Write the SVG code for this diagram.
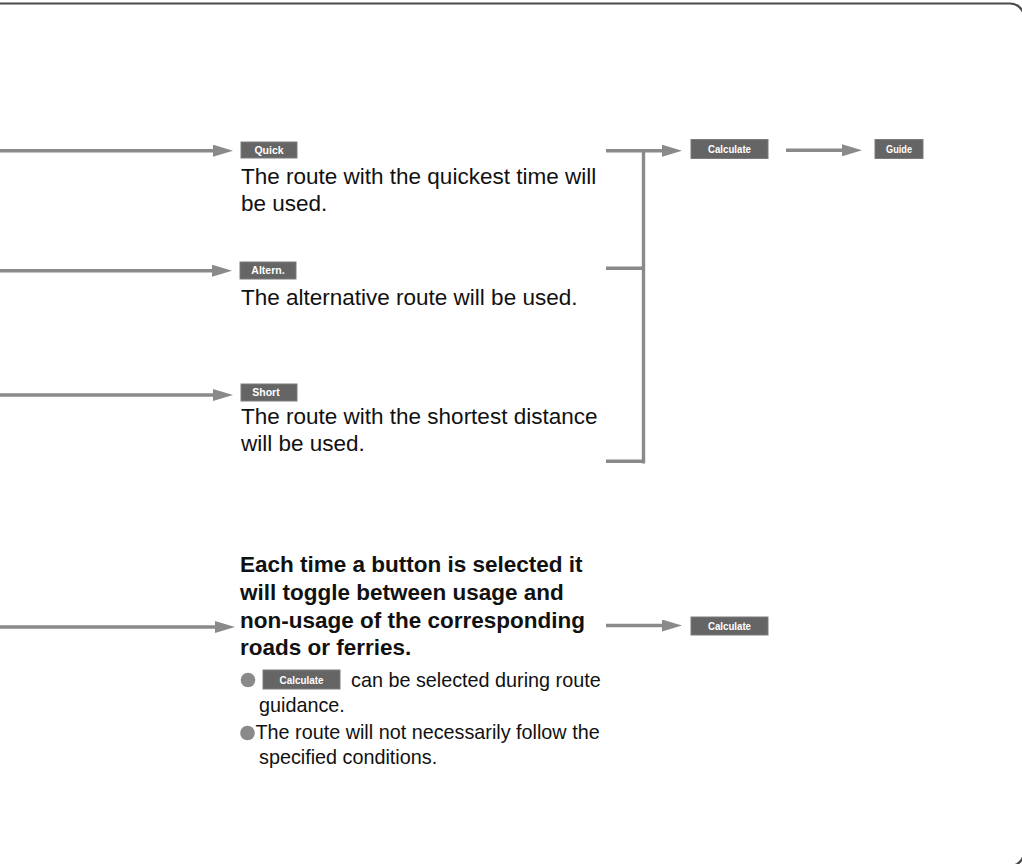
<svg xmlns="http://www.w3.org/2000/svg" width="1022" height="864" viewBox="0 0 1022 864">
<style>
.frame{fill:none;stroke:#4a4a4a;stroke-width:2.2}
.conn{fill:none;stroke:#8a8a8a;stroke-width:3.4}
.btn{fill:#656565;stroke:#7d7d7d;stroke-width:1}
.bt{fill:#ffffff;font-family:"Liberation Sans",Arial,sans-serif;font-weight:bold;font-size:10.5px;text-anchor:middle}
.txt{fill:#111111;font-family:"Liberation Sans",Arial,sans-serif;font-size:22.5px}
.bold{fill:#111111;font-family:"Liberation Sans",Arial,sans-serif;font-size:22.5px;font-weight:bold}
.note{fill:#111111;font-family:"Liberation Sans",Arial,sans-serif;font-size:19.8px}
.dot{fill:#8a8a8a}
</style>
<defs>
<marker id="ah" markerUnits="userSpaceOnUse" markerWidth="20" markerHeight="12" refX="8" refY="6" orient="auto" viewBox="0 0 20 12">
<path d="M0,0 L20,6 L0,12 z" fill="#8a8a8a"/>
</marker>
</defs>
<path class="frame" d="M-5,3.5 H1010 A14,14 0 0 1 1024,17.5 M1024,852 A14,14 0 0 1 1010,866"/>
<g id="connectors">
<line class="conn" x1="0" y1="150.7" x2="221" y2="150.7" marker-end="url(#ah)"/>
<line class="conn" x1="0" y1="270.7" x2="220" y2="270.7" marker-end="url(#ah)"/>
<line class="conn" x1="0" y1="395" x2="221" y2="395" marker-end="url(#ah)"/>
<line class="conn" x1="0" y1="627" x2="223" y2="627" marker-end="url(#ah)"/>
<line class="conn" x1="606" y1="150.7" x2="670" y2="150.7" marker-end="url(#ah)"/>
<line class="conn" x1="606" y1="268.3" x2="645" y2="268.3"/>
<line class="conn" x1="606" y1="461.3" x2="645" y2="461.3"/>
<line class="conn" x1="643.5" y1="149" x2="643.5" y2="463.5"/>
<line class="conn" x1="786" y1="150.3" x2="850" y2="150.3" marker-end="url(#ah)"/>
<line class="conn" x1="606" y1="625.5" x2="670" y2="625.5" marker-end="url(#ah)"/>
</g>
<g id="quick">
<rect class="btn" x="241" y="142" width="56" height="16"/>
<text class="bt" x="269" y="153.5">Quick</text>
</g>
<g id="quick-desc">
<text class="txt" x="241" y="184">The route with the quickest time will</text>
<text class="txt" x="241" y="210.5">be used.</text>
</g>
<g id="altern">
<rect class="btn" x="240" y="262" width="56" height="17"/>
<text class="bt" x="268" y="274">Altern.</text>
</g>
<g id="altern-desc">
<text class="txt" x="241" y="305">The alternative route will be used.</text>
</g>
<g id="short">
<rect class="btn" x="241" y="384" width="56" height="17"/>
<text class="bt" x="266" y="396">Short</text>
</g>
<g id="short-desc">
<text class="txt" x="241" y="424">The route with the shortest distance</text>
<text class="txt" x="241" y="451">will be used.</text>
</g>
<g id="calculate-top">
<rect class="btn" x="691" y="139.5" width="77" height="19"/>
<text class="bt" x="729.5" y="153" font-size="11.5" textLength="43" lengthAdjust="spacingAndGlyphs">Calculate</text>
</g>
<g id="guide">
<rect class="btn" x="875" y="139.5" width="48" height="19"/>
<text class="bt" x="899" y="153" font-size="11.5" textLength="26" lengthAdjust="spacingAndGlyphs">Guide</text>
</g>
<g id="toggle-desc">
<text class="bold" x="240" y="572">Each time a button is selected it</text>
<text class="bold" x="240" y="600">will toggle between usage and</text>
<text class="bold" x="240" y="627.5">non-usage of the corresponding</text>
<text class="bold" x="240" y="655">roads or ferries.</text>
</g>
<g id="calculate-bottom">
<rect class="btn" x="691" y="617" width="77" height="18"/>
<text class="bt" x="729.5" y="630" font-size="11.5" textLength="43" lengthAdjust="spacingAndGlyphs">Calculate</text>
</g>
<g id="notes">
<circle class="dot" cx="248" cy="680" r="7.3"/>
<rect class="btn" x="263" y="670" width="77" height="19"/>
<text class="bt" x="301.5" y="683.5" font-size="11.5" textLength="44" lengthAdjust="spacingAndGlyphs">Calculate</text>
<text class="note" x="351" y="687">can be selected during route</text>
<text class="note" x="259" y="712">guidance.</text>
<circle class="dot" cx="247.5" cy="733" r="7.3"/>
<text class="note" x="255.5" y="738.5">The route will not necessarily follow the</text>
<text class="note" x="259" y="764">specified conditions.</text>
</g>
</svg>
